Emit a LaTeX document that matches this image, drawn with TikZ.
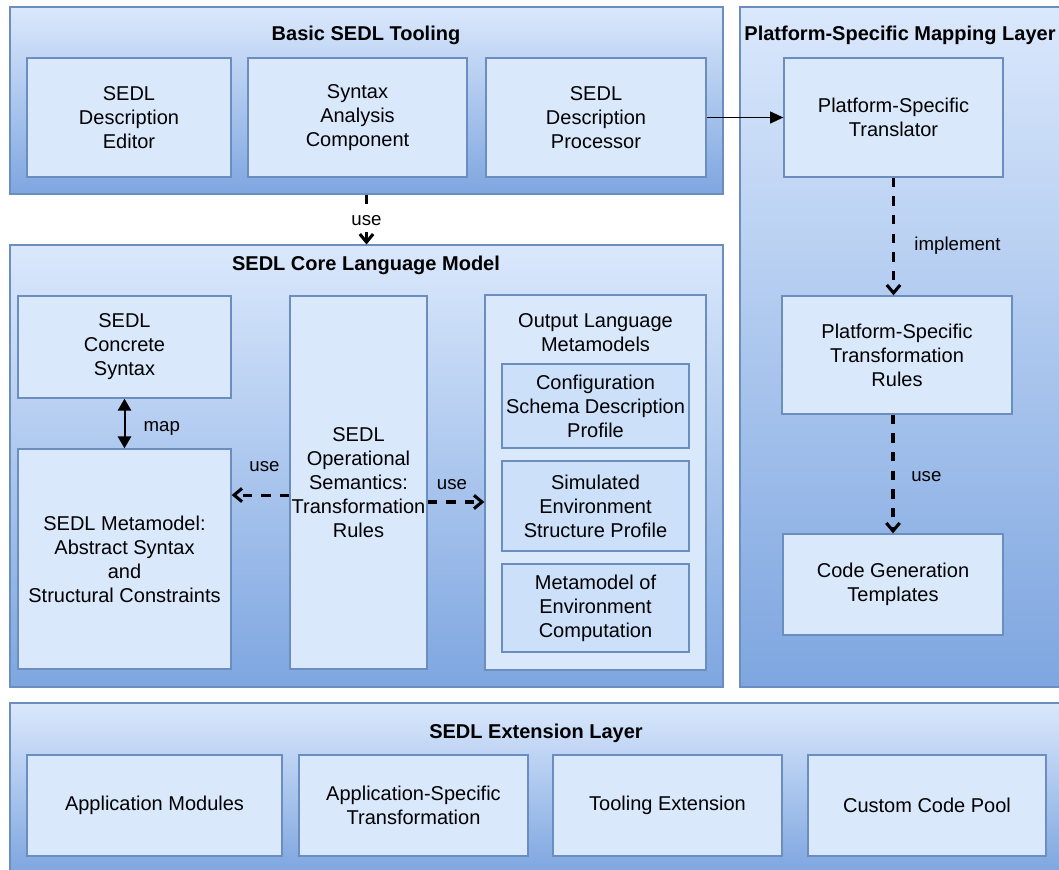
\documentclass[tikz,border=0pt]{standalone}
\usepackage{fontspec}
\setmainfont{Liberation Sans}
\usetikzlibrary{arrows.meta,fit}

\definecolor{fillLight}{HTML}{DAE8FC}
\definecolor{fillDark}{HTML}{7EA6E0}
\definecolor{edgeBlue}{HTML}{6C8EBF}
\definecolor{innerFill}{HTML}{CCE0FA}

\tikzset{
  layer/.style={draw=edgeBlue, line width=0.8pt, top color=fillLight, bottom color=fillDark, inner sep=0pt},
  sz/.style 2 args={minimum width=#1*0.75pt, minimum height=#2*0.75pt},
  part/.style={draw=edgeBlue, line width=1pt, fill=fillLight, inner sep=0pt, align=center,
               font=\fontsize{15}{18}\selectfont},
  subpart/.style={part, fill=innerFill},
  heading/.style={font=\bfseries\fontsize{15}{18}\selectfont, inner sep=0pt},
  caption/.style={font=\fontsize{14}{17}\selectfont, inner sep=1pt},
  depends/.style={line width=2.3pt, dash pattern=on 7pt off 7pt,
                  -{Straight Barb[length=6pt,width=10pt]}},
  flow/.style={line width=1.2pt, -{Triangle[length=10pt,width=9pt]}},
  mapping/.style={line width=1.5pt, {Triangle[length=9pt,width=10pt]}-{Triangle[length=9pt,width=10pt]}},
}

\begin{document}
\begin{tikzpicture}[x=0.75pt,y=-0.75pt]
\fill[white] (0,0) rectangle (1059,869);
\useasboundingbox (0,0) rectangle (1059,869);

% layers
\node[layer, fit={(10,7) (723,194)}] (tool) {};
\node[layer, fit={(740,7) (1062,687)}] (platform) {};
\node[layer, fit={(10,245) (723,687)}] (core) {};
\node[layer, fit={(10,703) (1062,872)}] (ext) {};

\node[heading] (toolT) at (366,35) {Basic SEDL Tooling};
\node[heading] (platformT) at (900,35) {Platform-Specific Mapping Layer};
\node[heading] (coreT) at (366,265) {SEDL Core Language Model};
\node[heading] (extT) at (536,733) {SEDL Extension Layer};

% basic tooling
\node[part, sz={204}{119}] (editor) at (129,117.5) {SEDL\\Description\\Editor};
\node[part, sz={219}{119}] (syntax) at (357.5,117.5) {Syntax\\Analysis\\Component};
\node[part, sz={220}{119}] (proc) at (596,117.5) {SEDL\\Description\\Processor};

% platform-specific mapping
\node[part, sz={219}{119}] (trans) at (893.5,117.5) {Platform-Specific\\Translator};
\node[part, sz={230}{118}] (rules) at (897,355) {Platform-Specific\\Transformation\\Rules};
\node[part, sz={220}{101}] (codegen) at (893,584.5) {Code Generation\\Templates};

% core language model
\node[part, sz={213}{102}] (concrete) at (124.5,347) {SEDL\\Concrete\\Syntax};
\node[part, sz={213}{220}] (meta) at (124.5,559) {SEDL Metamodel:\\Abstract Syntax\\and\\Structural Constraints};
\node[part, sz={137}{373}] (ops) at (358.5,482.5) {SEDL\\Operational\\Semantics:\\Transformation\\Rules};
\node[part, sz={221}{375}] (outbox) at (595.5,482.5) {};
\node[align=center, inner sep=0pt, font=\fontsize{15}{18}\selectfont] (outT) at (595.5,333) {Output Language\\Metamodels};
\node[subpart, sz={187}{84}] (schema) at (595.5,406) {Configuration\\Schema Description\\Profile};
\node[subpart, sz={187}{90}] (simenv) at (595.5,506) {Simulated\\Environment\\Structure Profile};
\node[subpart, sz={187}{88}] (envcomp) at (595.5,608) {Metamodel of\\Environment\\Computation};

% extension layer
\node[part, sz={255}{101}] (appmod) at (154.5,805.5) {Application Modules};
\node[part, sz={229}{101}] (appspec) at (413.5,805.5) {Application-Specific\\Transformation};
\node[part, sz={229}{101}] (toolext) at (667.5,805.5) {Tooling Extension};
\node[part, sz={238}{101}] (pool) at (927,805.5) {Custom Code Pool};

% connectors
\draw[depends] (tool.south) -- (core.north);
\node[caption, fill=white, inner xsep=3pt, inner ysep=2pt] (useA) at (366.5,221) {use};
\draw[flow] (proc) -- (trans);
\draw[depends] (trans.south) -- node[caption, xshift=48pt, yshift=-7pt] (implA) {implement} (trans.south |- rules.north);
\draw[depends] (rules.south -| codegen.north) -- node[caption, xshift=25pt, yshift=-2pt] (useB) {use} (codegen.north);
\draw[mapping] (concrete) -- node[caption, xshift=28pt, yshift=-4pt] (mapA) {map} (meta);
\draw[depends] ([yshift=-9.4pt]ops.west) -- node[caption, xshift=3pt, yshift=21pt] (useC) {use} ([yshift=-9.4pt]ops.west -| meta.east);
\draw[depends] ([yshift=-14.6pt]ops.east) -- node[caption, xshift=-3pt, yshift=13pt] (useD) {use} ([yshift=-14.6pt]ops.east -| outbox.west);
\end{tikzpicture}
\end{document}
